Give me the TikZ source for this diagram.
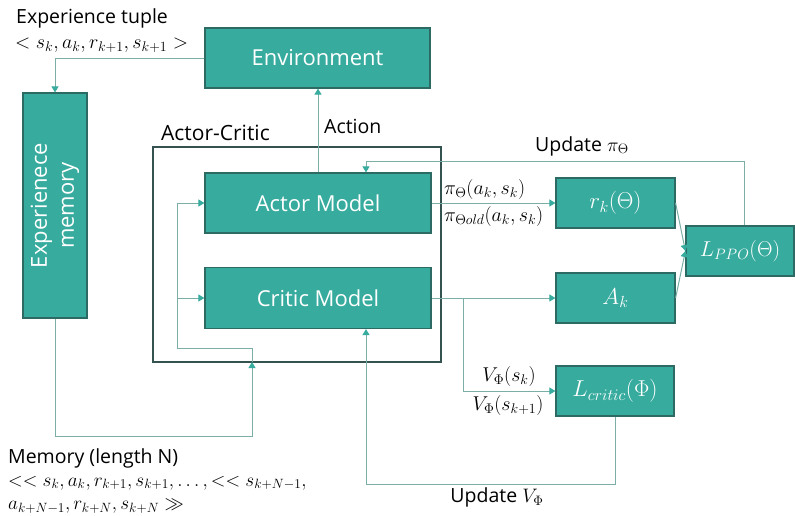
\documentclass[tikz,border=0pt]{standalone}
\usepackage{fontspec}
\usepackage{fix-cm}
\setmainfont{Open Sans}
\usetikzlibrary{arrows.meta}
\definecolor{boxfill}{HTML}{37AB9E}
\definecolor{boxdraw}{HTML}{2C6A63}
\definecolor{lncol}{HTML}{7AAEA7}
\definecolor{tipcol}{HTML}{37AB9E}
\definecolor{framecol}{HTML}{34524F}
\tikzset{
  tbox/.style={draw=boxdraw, fill=boxfill, line width=1.2pt, text=white, font=\fontsize{22}{26}\selectfont, inner sep=0pt},
  mbox/.style={tbox, font=\fontsize{23}{26}\selectfont},
  ln/.style={draw=lncol, line width=1pt},
  arr/.style={ln, -{Triangle[width=7pt,length=6pt,color=tipcol]}},
  lbl/.style={font=\fontsize{19.5}{23}\selectfont, text=black, inner sep=0pt},
  mlbl/.style={font=\fontsize{20}{23}\selectfont, text=black, inner sep=0pt}
}
\begin{document}
\begin{tikzpicture}[x=1pt,y=-1pt]
\useasboundingbox (0,0) rectangle (795,515);
% frame
\node[draw=framecol, line width=1.3pt, minimum width=288pt, minimum height=215pt, inner sep=0pt] (ac) at (297,254.5) {};
% boxes
\node[tbox, minimum width=225pt, minimum height=60pt] (env) at (317.5,58) {Environment};
\node[tbox, minimum width=64pt, minimum height=225pt] (mem) at (55,205.5) {};
\node[text=white, font=\fontsize{22}{27}\selectfont, rotate=90, align=center, inner sep=0pt] (memtxt) at (mem.center) {Experienece\\memory};
\node[tbox, minimum width=226pt, minimum height=60pt] (actor) at (318,203) {Actor Model};
\node[tbox, minimum width=226pt, minimum height=61pt] (critic) at (318,298) {Critic Model};
\node[mbox, minimum width=119pt, minimum height=50pt] (rk) at (615.5,203) {$r_k(\Theta)$};
\node[mbox, minimum width=119pt, minimum height=50pt] (ak) at (615.5,298) {$A_k$};
\node[mbox, font=\fontsize{21.5}{24}\selectfont, minimum width=108pt, minimum height=50pt] (lppo) at (740,251) {$L_{PPO}(\Theta)$};
\node[mbox, minimum width=118pt, minimum height=50pt] (lcrit) at (615,391) {$L_{critic}(\Phi)$};
% labels
\node[lbl, anchor=west] (t1) at (16,18) {Experience tuple};
\node[mlbl, anchor=west] (t2) at (15,45) {$<s_k, a_k, r_{k+1}, s_{k+1}>$};
\node[lbl, font=\fontsize{21}{24}\selectfont, anchor=west] (t3) at (161,133) {Actor-Critic};
\node[lbl, anchor=west] (t4) at (324,126) {Action};
\node[lbl, anchor=west] (t5) at (535,146) {Update $\pi_\Theta$};
\node[mlbl, anchor=west] (t6) at (444,189) {$\pi_\Theta(a_k, s_k)$};
\node[mlbl, anchor=west] (t7) at (444,216) {$\pi_{\Theta old}(a_k, s_k)$};
\node[mlbl] (t8) at (509,376) {$V_\Phi(s_k)$};
\node[mlbl] (t9) at (508,405) {$V_\Phi(s_{k+1})$};
\node[lbl] (t10) at (497,497) {Update $V_\Phi$};
\node[lbl, anchor=west] (t11) at (8,458) {Memory (length N)};
\node[mlbl, font=\fontsize{19.2}{22}\selectfont, anchor=west] (t12) at (8,483) {$<< s_k, a_k, r_{k+1}, s_{k+1}, \dots, << s_{k+N-1},$};
\node[mlbl, font=\fontsize{19.2}{22}\selectfont, anchor=west] (t13) at (8,506) {$a_{k+N-1}, r_{k+N}, s_{k+N} \gg$};
% coordinates
\coordinate (mb) at (252,436);
\coordinate (ain) at (252,362);
\coordinate (aj) at (252,348);
\coordinate (lj) at (177,348);
\coordinate (ja) at (177,203);
\coordinate (jc) at (177,298);
\coordinate (br) at (463,298);
\coordinate (up) at (744,161);
\coordinate (ua) at (366,161);
\coordinate (lc) at (615,484);
\coordinate (uc) at (366,484);
% connectors
\draw[arr] (env.west) -| (mem.north);
\draw[arr] (actor.north) -- (actor.north |- env.south);
\draw[arr] (mem.south) |- (mb) -- (ain);
\draw[ln] (ain) -- (aj) -- (lj) -- (ja);
\draw[arr] (ja) -- (actor.west);
\draw[arr] (jc) -- (critic.west);
\draw[arr] (actor.east) -- (rk.west);
\draw[arr] (critic.east) -- (ak.west);
\draw[arr] (br) |- (lcrit.west);
\draw[arr] (rk.east) -- (lppo.west);
\draw[arr] (ak.east) -- (lppo.west);
\draw[arr] (lppo.north -| up) -- (up) -- (ua) -- (ua |- actor.north);
\draw[arr] (lcrit.south) -- (lc) -- (uc) -- (uc |- critic.south);
\end{tikzpicture}
\end{document}
